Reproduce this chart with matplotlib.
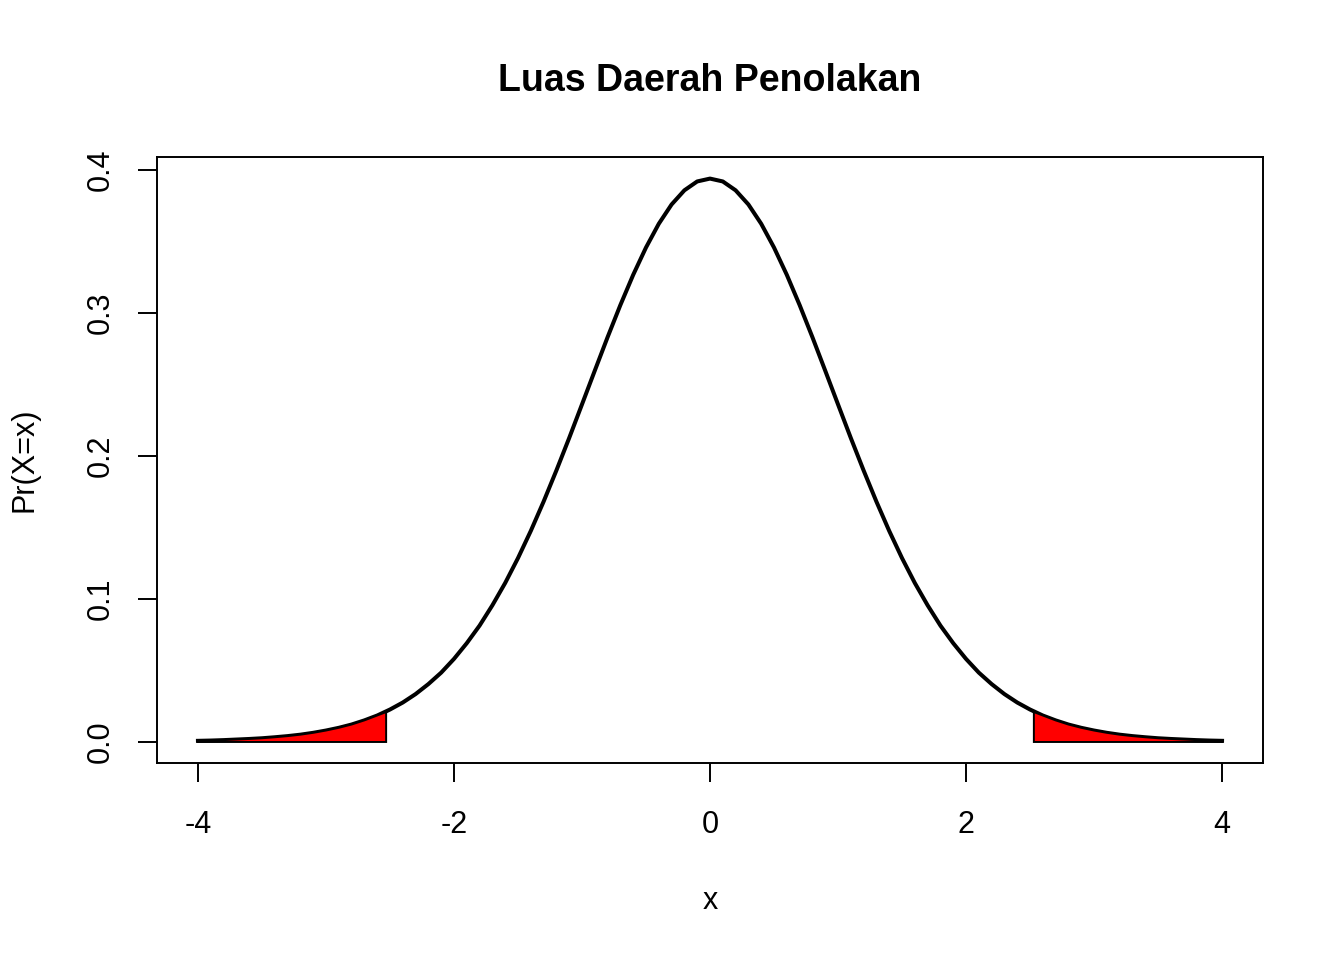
import matplotlib.pyplot as plt

plt.rcParams['font.family'] = ['Liberation Sans', 'DejaVu Sans']

# density, x from -4 to 4
x_vals = [-4.0, -3.9, -3.8, -3.7, -3.6, -3.5, -3.4, -3.3, -3.2, -3.1,
          -3.0, -2.9, -2.8, -2.7, -2.6, -2.5, -2.4, -2.3, -2.2, -2.1,
          -2.0, -1.9, -1.8, -1.7, -1.6, -1.5, -1.4, -1.3, -1.2, -1.1,
          -1.0, -0.9, -0.8, -0.7, -0.6, -0.5, -0.4, -0.3, -0.2, -0.1,
          0.0, 0.1, 0.2, 0.3, 0.4, 0.5, 0.6, 0.7, 0.8, 0.9,
          1.0, 1.1, 1.2, 1.3, 1.4, 1.5, 1.6, 1.7, 1.8, 1.9,
          2.0, 2.1, 2.2, 2.3, 2.4, 2.5, 2.6, 2.7, 2.8, 2.9,
          3.0, 3.1, 3.2, 3.3, 3.4, 3.5, 3.6, 3.7, 3.8, 3.9, 4.0]
y_vals = [0.0008, 0.0010, 0.0013, 0.0017, 0.0021, 0.0026, 0.0033, 0.0041, 0.0051, 0.0064,
          0.0080, 0.0099, 0.0122, 0.0151, 0.0185, 0.0227, 0.0276, 0.0335, 0.0405, 0.0485,
          0.0581, 0.0691, 0.0814, 0.0956, 0.1112, 0.1286, 0.1476, 0.1681, 0.1899, 0.2126,
          0.2361, 0.2597, 0.2831, 0.3056, 0.3267, 0.3458, 0.3624, 0.3759, 0.3858, 0.3920,
          0.3940, 0.3920, 0.3858, 0.3759, 0.3624, 0.3458, 0.3267, 0.3056, 0.2831, 0.2597,
          0.2361, 0.2126, 0.1899, 0.1681, 0.1476, 0.1286, 0.1112, 0.0956, 0.0814, 0.0691,
          0.0581, 0.0485, 0.0405, 0.0335, 0.0276, 0.0227, 0.0185, 0.0151, 0.0122, 0.0099,
          0.0080, 0.0064, 0.0051, 0.0041, 0.0033, 0.0026, 0.0021, 0.0017, 0.0013, 0.0010, 0.0008]

# rejection region boundary
crit = 2.53
crit_y = 0.0209

x_ticks = [-4, -2, 0, 2, 4]
y_ticks = [0.0, 0.1, 0.2, 0.3, 0.4]

fig = plt.figure(figsize=(13.44, 9.6), dpi=100)
ax = fig.add_axes([157 / 1344, 1 - 763 / 960, (1263 - 157) / 1344, (763 - 157) / 960])

# red tails
left_x = [x_vals[0]] + [x for x in x_vals if x < -crit] + [-crit, -crit]
left_y = [0.0] + [y for x, y in zip(x_vals, y_vals) if x < -crit] + [crit_y, 0.0]
right_x = [crit, crit] + [x for x in x_vals if x > crit] + [x_vals[-1]]
right_y = [0.0, crit_y] + [y for x, y in zip(x_vals, y_vals) if x > crit] + [0.0]

ax.plot(x_vals, y_vals, color='black', lw=2.9, solid_joinstyle='round', zorder=2)
ax.fill(left_x, left_y, facecolor='red', edgecolor='black', lw=1.4, zorder=3)
ax.fill(right_x, right_y, facecolor='red', edgecolor='black', lw=1.4, zorder=3)

ax.set_xlim(-4.32, 4.32)
ax.set_ylim(-0.0147, 0.4091)
ax.set_xticks(x_ticks)
ax.set_xticklabels([str(t) for t in x_ticks])
ax.set_yticks(y_ticks)
ax.set_yticklabels(['%.1f' % t for t in y_ticks], rotation=90, va='center')
ax.tick_params(direction='out', length=13.7, width=1.4, labelsize=22, pad=20)
ax.tick_params(axis='y', pad=16)
for s in ax.spines.values():
    s.set_linewidth(1.4)

fig.text(710 / 1344, 1 - 81 / 960, 'Luas Daerah Penolakan', ha='center', va='center',
         fontsize=27, fontweight='bold')
fig.text(710 / 1344, 1 - 901 / 960, 'x', ha='center', va='center', fontsize=22)
fig.text(25 / 1344, 1 - 460 / 960, 'Pr(X=x)', ha='center', va='center', fontsize=22,
         rotation=90)

fig.savefig('out.png', dpi=100)
